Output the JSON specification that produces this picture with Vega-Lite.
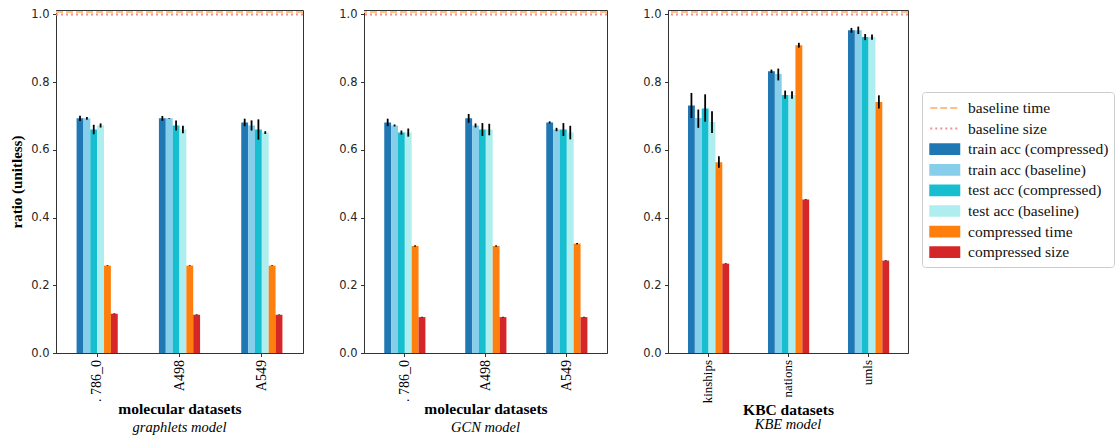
{
  "$schema": "https://vega.github.io/schema/vega-lite/v6.json",
  "background": "white",
  "padding": {"left": 9, "top": 7, "right": 2, "bottom": 0},
  "bounds": "flush",
  "spacing": 61,
  "datasets": {
    "bars": [
      {"p": "graphlets", "d": ".\u00a0786_0", "s": "train acc (compressed)", "v": 0.693, "lo": 0.685, "hi": 0.701},
      {"p": "graphlets", "d": ".\u00a0786_0", "s": "train acc (baseline)", "v": 0.693, "lo": 0.689, "hi": 0.697},
      {"p": "graphlets", "d": ".\u00a0786_0", "s": "test acc (compressed)", "v": 0.660, "lo": 0.646, "hi": 0.674},
      {"p": "graphlets", "d": ".\u00a0786_0", "s": "test acc (baseline)", "v": 0.672, "lo": 0.666, "hi": 0.678},
      {"p": "graphlets", "d": ".\u00a0786_0", "s": "compressed time", "v": 0.258, "lo": 0.257, "hi": 0.259},
      {"p": "graphlets", "d": ".\u00a0786_0", "s": "compressed size", "v": 0.116, "lo": 0.115, "hi": 0.117},
      {"p": "graphlets", "d": "A498", "s": "train acc (compressed)", "v": 0.693, "lo": 0.686, "hi": 0.700},
      {"p": "graphlets", "d": "A498", "s": "train acc (baseline)", "v": 0.693, "lo": 0.692, "hi": 0.694},
      {"p": "graphlets", "d": "A498", "s": "test acc (compressed)", "v": 0.672, "lo": 0.657, "hi": 0.687},
      {"p": "graphlets", "d": "A498", "s": "test acc (baseline)", "v": 0.660, "lo": 0.649, "hi": 0.671},
      {"p": "graphlets", "d": "A498", "s": "compressed time", "v": 0.258, "lo": 0.257, "hi": 0.259},
      {"p": "graphlets", "d": "A498", "s": "compressed size", "v": 0.113, "lo": 0.112, "hi": 0.114},
      {"p": "graphlets", "d": "A549", "s": "train acc (compressed)", "v": 0.681, "lo": 0.670, "hi": 0.692},
      {"p": "graphlets", "d": "A549", "s": "train acc (baseline)", "v": 0.672, "lo": 0.657, "hi": 0.687},
      {"p": "graphlets", "d": "A549", "s": "test acc (compressed)", "v": 0.660, "lo": 0.630, "hi": 0.690},
      {"p": "graphlets", "d": "A549", "s": "test acc (baseline)", "v": 0.651, "lo": 0.647, "hi": 0.655},
      {"p": "graphlets", "d": "A549", "s": "compressed time", "v": 0.258, "lo": 0.257, "hi": 0.259},
      {"p": "graphlets", "d": "A549", "s": "compressed size", "v": 0.113, "lo": 0.112, "hi": 0.114},

      {"p": "GCN", "d": ".\u00a0786_0", "s": "train acc (compressed)", "v": 0.681, "lo": 0.670, "hi": 0.692},
      {"p": "GCN", "d": ".\u00a0786_0", "s": "train acc (baseline)", "v": 0.672, "lo": 0.669, "hi": 0.675},
      {"p": "GCN", "d": ".\u00a0786_0", "s": "test acc (compressed)", "v": 0.651, "lo": 0.645, "hi": 0.657},
      {"p": "GCN", "d": ".\u00a0786_0", "s": "test acc (baseline)", "v": 0.651, "lo": 0.639, "hi": 0.663},
      {"p": "GCN", "d": ".\u00a0786_0", "s": "compressed time", "v": 0.316, "lo": 0.314, "hi": 0.318},
      {"p": "GCN", "d": ".\u00a0786_0", "s": "compressed size", "v": 0.106, "lo": 0.105, "hi": 0.107},
      {"p": "GCN", "d": "A498", "s": "train acc (compressed)", "v": 0.693, "lo": 0.680, "hi": 0.706},
      {"p": "GCN", "d": "A498", "s": "train acc (baseline)", "v": 0.672, "lo": 0.666, "hi": 0.678},
      {"p": "GCN", "d": "A498", "s": "test acc (compressed)", "v": 0.660, "lo": 0.641, "hi": 0.679},
      {"p": "GCN", "d": "A498", "s": "test acc (baseline)", "v": 0.660, "lo": 0.643, "hi": 0.677},
      {"p": "GCN", "d": "A498", "s": "compressed time", "v": 0.316, "lo": 0.314, "hi": 0.318},
      {"p": "GCN", "d": "A498", "s": "compressed size", "v": 0.106, "lo": 0.105, "hi": 0.107},
      {"p": "GCN", "d": "A549", "s": "train acc (compressed)", "v": 0.681, "lo": 0.678, "hi": 0.684},
      {"p": "GCN", "d": "A549", "s": "train acc (baseline)", "v": 0.660, "lo": 0.655, "hi": 0.665},
      {"p": "GCN", "d": "A549", "s": "test acc (compressed)", "v": 0.660, "lo": 0.641, "hi": 0.679},
      {"p": "GCN", "d": "A549", "s": "test acc (baseline)", "v": 0.651, "lo": 0.631, "hi": 0.671},
      {"p": "GCN", "d": "A549", "s": "compressed time", "v": 0.323, "lo": 0.321, "hi": 0.325},
      {"p": "GCN", "d": "A549", "s": "compressed size", "v": 0.106, "lo": 0.105, "hi": 0.107},

      {"p": "KBE", "d": "kinships", "s": "train acc (compressed)", "v": 0.731, "lo": 0.694, "hi": 0.768},
      {"p": "KBE", "d": "kinships", "s": "train acc (baseline)", "v": 0.694, "lo": 0.665, "hi": 0.719},
      {"p": "KBE", "d": "kinships", "s": "test acc (compressed)", "v": 0.722, "lo": 0.683, "hi": 0.764},
      {"p": "KBE", "d": "kinships", "s": "test acc (baseline)", "v": 0.682, "lo": 0.650, "hi": 0.714},
      {"p": "KBE", "d": "kinships", "s": "compressed time", "v": 0.563, "lo": 0.547, "hi": 0.581},
      {"p": "KBE", "d": "kinships", "s": "compressed size", "v": 0.264, "lo": 0.263, "hi": 0.265},
      {"p": "KBE", "d": "nations", "s": "train acc (compressed)", "v": 0.832, "lo": 0.827, "hi": 0.837},
      {"p": "KBE", "d": "nations", "s": "train acc (baseline)", "v": 0.824, "lo": 0.805, "hi": 0.840},
      {"p": "KBE", "d": "nations", "s": "test acc (compressed)", "v": 0.762, "lo": 0.751, "hi": 0.775},
      {"p": "KBE", "d": "nations", "s": "test acc (baseline)", "v": 0.762, "lo": 0.751, "hi": 0.773},
      {"p": "KBE", "d": "nations", "s": "compressed time", "v": 0.909, "lo": 0.902, "hi": 0.916},
      {"p": "KBE", "d": "nations", "s": "compressed size", "v": 0.453, "lo": 0.452, "hi": 0.454},
      {"p": "KBE", "d": "umls", "s": "train acc (compressed)", "v": 0.953, "lo": 0.946, "hi": 0.960},
      {"p": "KBE", "d": "umls", "s": "train acc (baseline)", "v": 0.953, "lo": 0.942, "hi": 0.964},
      {"p": "KBE", "d": "umls", "s": "test acc (compressed)", "v": 0.933, "lo": 0.924, "hi": 0.942},
      {"p": "KBE", "d": "umls", "s": "test acc (baseline)", "v": 0.933, "lo": 0.925, "hi": 0.941},
      {"p": "KBE", "d": "umls", "s": "compressed time", "v": 0.741, "lo": 0.722, "hi": 0.761},
      {"p": "KBE", "d": "umls", "s": "compressed size", "v": 0.273, "lo": 0.272, "hi": 0.274}
    ],
    "base": [
      {"s": "baseline time", "v": 1.007},
      {"s": "baseline size", "v": 1.0}
    ]
  },
  "resolve": {"scale": {"color": "shared"}, "legend": {"color": "shared"}},
  "hconcat": [
    {
      "width": 247, "height": 343,
      "title": {"text": "graphlets model"},
      "layer": [
        {
          "data": {"name": "bars"},
          "transform": [{"filter": "datum.p === 'graphlets'"}],
          "mark": {"type": "bar"},
          "encoding": {
            "x": {"field": "d", "type": "nominal", "sort": null, "scale": {"paddingInner": 0.5, "paddingOuter": 0.25},
                  "axis": {"title": "molecular datasets"}},
            "xOffset": {"field": "s", "type": "nominal", "sort": ["train acc (compressed)", "train acc (baseline)", "test acc (compressed)", "test acc (baseline)", "compressed time", "compressed size"]},
            "y": {"field": "v", "type": "quantitative", "scale": {"domain": [0, 1.013], "nice": false, "zero": true},
                  "axis": {"title": "ratio (unitless)", "values": [0, 0.2, 0.4, 0.6, 0.8, 1.0], "format": ".1f"}},
            "color": {"field": "s", "type": "nominal",
              "scale": {"domain": ["baseline time", "baseline size", "train acc (compressed)", "train acc (baseline)", "test acc (compressed)", "test acc (baseline)", "compressed time", "compressed size"],
                        "range": ["#ffbf87", "#eb9394", "#1f77b4", "#87ceeb", "#17becf", "#afeeee", "#ff7f0e", "#d62728"]}}
          }
        },
        {
          "data": {"name": "bars"},
          "transform": [{"filter": "datum.p === 'graphlets'"}],
          "mark": {"type": "rule", "color": "#000", "strokeWidth": 1.8},
          "encoding": {
            "x": {"field": "d", "type": "nominal", "sort": null},
            "xOffset": {"field": "s", "type": "nominal", "sort": ["train acc (compressed)", "train acc (baseline)", "test acc (compressed)", "test acc (baseline)", "compressed time", "compressed size"]},
            "y": {"field": "lo", "type": "quantitative"},
            "y2": {"field": "hi"}
          }
        },
        {
          "data": {"name": "base"},
          "mark": {"type": "rule", "strokeWidth": 2},
          "encoding": {
            "y": {"field": "v", "type": "quantitative"},
            "color": {"field": "s", "type": "nominal"},
            "strokeDash": {"field": "s", "type": "nominal", "scale": {"domain": ["baseline time", "baseline size"], "range": [[7, 3], [2, 3]]}, "legend": null}
          }
        }
      ]
    },
    {
      "width": 243, "height": 343,
      "title": {"text": "GCN model"},
      "layer": [
        {
          "data": {"name": "bars"},
          "transform": [{"filter": "datum.p === 'GCN'"}],
          "mark": {"type": "bar"},
          "encoding": {
            "x": {"field": "d", "type": "nominal", "sort": null, "scale": {"paddingInner": 0.5, "paddingOuter": 0.25},
                  "axis": {"title": "molecular datasets"}},
            "xOffset": {"field": "s", "type": "nominal", "sort": ["train acc (compressed)", "train acc (baseline)", "test acc (compressed)", "test acc (baseline)", "compressed time", "compressed size"]},
            "y": {"field": "v", "type": "quantitative", "scale": {"domain": [0, 1.013], "nice": false, "zero": true},
                  "axis": {"title": null, "values": [0, 0.2, 0.4, 0.6, 0.8, 1.0], "format": ".1f"}},
            "color": {"field": "s", "type": "nominal",
              "scale": {"domain": ["baseline time", "baseline size", "train acc (compressed)", "train acc (baseline)", "test acc (compressed)", "test acc (baseline)", "compressed time", "compressed size"],
                        "range": ["#ffbf87", "#eb9394", "#1f77b4", "#87ceeb", "#17becf", "#afeeee", "#ff7f0e", "#d62728"]}}
          }
        },
        {
          "data": {"name": "bars"},
          "transform": [{"filter": "datum.p === 'GCN'"}],
          "mark": {"type": "rule", "color": "#000", "strokeWidth": 1.8},
          "encoding": {
            "x": {"field": "d", "type": "nominal", "sort": null},
            "xOffset": {"field": "s", "type": "nominal", "sort": ["train acc (compressed)", "train acc (baseline)", "test acc (compressed)", "test acc (baseline)", "compressed time", "compressed size"]},
            "y": {"field": "lo", "type": "quantitative"},
            "y2": {"field": "hi"}
          }
        },
        {
          "data": {"name": "base"},
          "mark": {"type": "rule", "strokeWidth": 2},
          "encoding": {
            "y": {"field": "v", "type": "quantitative"},
            "color": {"field": "s", "type": "nominal"},
            "strokeDash": {"field": "s", "type": "nominal", "scale": {"domain": ["baseline time", "baseline size"], "range": [[7, 3], [2, 3]]}, "legend": null}
          }
        }
      ]
    },
    {
      "width": 240, "height": 343,
      "title": {"text": "KBE model", "offset": 0},
      "layer": [
        {
          "data": {"name": "bars"},
          "transform": [{"filter": "datum.p === 'KBE'"}],
          "mark": {"type": "bar"},
          "encoding": {
            "x": {"field": "d", "type": "nominal", "sort": null, "scale": {"paddingInner": 0.5, "paddingOuter": 0.25},
                  "axis": {"title": "KBC datasets", "labelFontSize": 13}},
            "xOffset": {"field": "s", "type": "nominal", "sort": ["train acc (compressed)", "train acc (baseline)", "test acc (compressed)", "test acc (baseline)", "compressed time", "compressed size"]},
            "y": {"field": "v", "type": "quantitative", "scale": {"domain": [0, 1.013], "nice": false, "zero": true},
                  "axis": {"title": null, "values": [0, 0.2, 0.4, 0.6, 0.8, 1.0], "format": ".1f"}},
            "color": {"field": "s", "type": "nominal",
              "scale": {"domain": ["baseline time", "baseline size", "train acc (compressed)", "train acc (baseline)", "test acc (compressed)", "test acc (baseline)", "compressed time", "compressed size"],
                        "range": ["#ffbf87", "#eb9394", "#1f77b4", "#87ceeb", "#17becf", "#afeeee", "#ff7f0e", "#d62728"]},
              "legend": {
                "orient": "none", "legendX": 866, "legendY": 82,
                "title": null,
                "symbolType": "square",
                "symbolSize": 374,
                "rowPadding": 0.6,
                "padding": 5,
                "labelOffset": 19,
                "labelFont": "Liberation Serif",
                "labelFontSize": 15.5,
                "labelColor": "#111",
                "labelLimit": 300,
                "strokeColor": "#cccccc",
                "fillColor": "#ffffff",
                "cornerRadius": 3,
                "encode": {
                  "symbols": {
                    "update": {
                      "shape": {"signal": "(datum.value === 'baseline time' || datum.value === 'baseline size') ? 'M-0.8,0H2.2' : 'M-0.8,-0.5H2.2V0.5H-0.8Z'"},
                      "fill": {"signal": "(datum.value === 'baseline time' || datum.value === 'baseline size') ? 'transparent' : scale('color', datum.value)"},
                      "stroke": {"signal": "(datum.value === 'baseline time' || datum.value === 'baseline size') ? scale('color', datum.value) : 'transparent'"},
                      "strokeWidth": {"value": 2},
                      "strokeDash": {"signal": "datum.value === 'baseline time' ? [7, 3] : (datum.value === 'baseline size' ? [2, 3] : [1, 0])"},
                      "opacity": {"value": 1}
                    }
                  }
                }
              }}
          }
        },
        {
          "data": {"name": "bars"},
          "transform": [{"filter": "datum.p === 'KBE'"}],
          "mark": {"type": "rule", "color": "#000", "strokeWidth": 1.8},
          "encoding": {
            "x": {"field": "d", "type": "nominal", "sort": null},
            "xOffset": {"field": "s", "type": "nominal", "sort": ["train acc (compressed)", "train acc (baseline)", "test acc (compressed)", "test acc (baseline)", "compressed time", "compressed size"]},
            "y": {"field": "lo", "type": "quantitative"},
            "y2": {"field": "hi"}
          }
        },
        {
          "data": {"name": "base"},
          "mark": {"type": "rule", "strokeWidth": 2},
          "encoding": {
            "y": {"field": "v", "type": "quantitative"},
            "color": {"field": "s", "type": "nominal"},
            "strokeDash": {"field": "s", "type": "nominal", "scale": {"domain": ["baseline time", "baseline size"], "range": [[7, 3], [2, 3]]}, "legend": null}
          }
        }
      ]
    }
  ],
  "config": {
    "view": {"stroke": "#333", "strokeWidth": 1},
    "font": "Liberation Serif",
    "title": {"orient": "bottom", "anchor": "middle", "font": "Liberation Serif", "fontStyle": "italic", "fontWeight": "normal", "fontSize": 14.5, "color": "#000", "offset": 0},
    "axis": {"grid": false, "domainColor": "#333", "tickColor": "#333", "tickSize": 3.5, "tickWidth": 1},
    "axisX": {"labelAngle": 270, "labelFont": "Liberation Serif", "labelFontSize": 14, "labelColor": "#000", "labelPadding": 3,
              "titleFont": "Liberation Serif", "titleFontWeight": "bold", "titleFontSize": 15.5, "titleColor": "#000", "titlePadding": 0},
    "axisY": {"labelFont": "DejaVu Sans", "labelFontSize": 11.5, "labelColor": "#262626", "labelPadding": 3.5,
              "titleFont": "Liberation Serif", "titleFontWeight": "bold", "titleFontSize": 15, "titleColor": "#000", "titlePadding": 6}
  }
}
